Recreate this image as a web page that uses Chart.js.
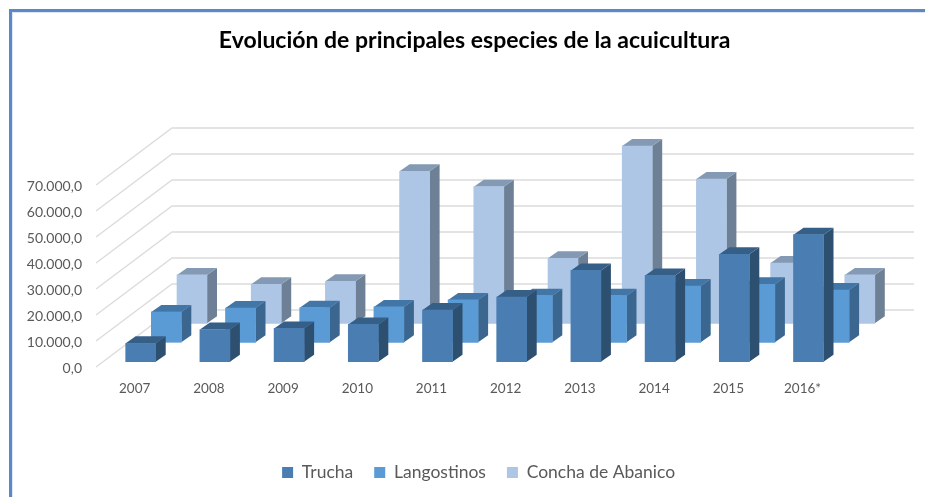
<!DOCTYPE html>
<html>
<head>
<meta charset="utf-8">
<title>Evolución de principales especies de la acuicultura</title>
<script src="https://cdn.jsdelivr.net/npm/chart.js@4"></script>
<style>
    html, body { margin: 0; padding: 0; background: #fff; overflow: hidden; }
    #frame {
        position: absolute; left: 9px; top: 9px; right: 0; bottom: 0;
        border-top: 3px solid #5a8ac6; border-left: 3px solid #5a8ac6;
        box-shadow: inset 1px 1px 0 #dde6f1;
    }
    #chart { position: absolute; left: 0; top: 0; }
</style>
</head>
<body>
<div id="frame"></div>
<canvas id="chart" width="925" height="497"></canvas>
<script>
const categories = ['2007', '2008', '2009', '2010', '2011', '2012', '2013', '2014', '2015', '2016*'];
const trucha = [7050, 12400, 12800, 14350, 19900, 24900, 35100, 33200, 41300, 48850];
const langostinos = [11670, 13200, 13300, 13600, 16300, 17950, 17950, 21670, 22300, 20100];
const concha = [18600, 15000, 16150, 58460, 52560, 25000, 68200, 55500, 23200, 18600];
const yTickLabels = ['0,0', '10.000,0', '20.000,0', '30.000,0', '40.000,0', '50.000,0', '60.000,0', '70.000,0'];

// faces of each series: front, side, top
const faces = [
    { front: '#4a7eb2', side: '#2d4f70', top: '#365f88' },
    { front: '#5b9bd5', side: '#3a668f', top: '#4176a6' },
    { front: '#adc6e5', side: '#6e8095', top: '#8499b3' }
];
// how far each row sits back from the front row
const rowShift = [{ x: 0, y: 0 }, { x: 25.6, y: -19.4 }, { x: 51.3, y: -38.4 }];
const barDepth = { x: 10, y: -7 };
const wallDepth = { x: 76, y: -57 };

const fake3d = {
    id: 'fake3d',
    afterLayout(chart) {
        // legend sits a little right of the plot centre
        chart.legend.left += 4;
        chart.legend.right += 4;
    },
    beforeDatasetsDraw(chart) {
        // the walls, behind everything
        const ctx = chart.ctx;
        const yScale = chart.scales.y;
        const left = 96;
        ctx.save();
        ctx.strokeStyle = '#dcdcdc';
        ctx.lineWidth = 1.4;
        yScale.ticks.forEach(tick => {
            const y = yScale.getPixelForValue(tick.value) + 5.3;
            ctx.beginPath();
            ctx.moveTo(left, y);
            ctx.lineTo(left + wallDepth.x, y + wallDepth.y);
            ctx.lineTo(914, y + wallDepth.y);
            ctx.stroke();
        });
        ctx.restore();
    },
    beforeDatasetDraw(chart, args) {
        const ctx = chart.ctx;
        const shift = rowShift[args.index];
        const face = faces[args.index];
        ctx.save();
        ctx.translate(shift.x, shift.y);
        args.meta.data.forEach(bar => {
            const l = bar.x - bar.width / 2;
            const r = bar.x + bar.width / 2;
            ctx.fillStyle = face.side;
            ctx.beginPath();
            ctx.moveTo(r, bar.y);
            ctx.lineTo(r + barDepth.x, bar.y + barDepth.y);
            ctx.lineTo(r + barDepth.x, bar.base + barDepth.y);
            ctx.lineTo(r, bar.base);
            ctx.closePath();
            ctx.fill();
            ctx.fillStyle = face.top;
            ctx.beginPath();
            ctx.moveTo(l, bar.y);
            ctx.lineTo(l + barDepth.x, bar.y + barDepth.y);
            ctx.lineTo(r + barDepth.x, bar.y + barDepth.y);
            ctx.lineTo(r, bar.y);
            ctx.closePath();
            ctx.fill();
        });
    },
    afterDatasetDraw(chart) {
        chart.ctx.restore();
    }
};

const fontFamily = 'Lato, sans-serif';

new Chart(document.getElementById('chart').getContext('2d'), {
    type: 'bar',
    data: {
        labels: categories,
        datasets: [
            { label: 'Trucha', data: trucha, backgroundColor: faces[0].front },
            { label: 'Langostinos', data: langostinos, backgroundColor: faces[1].front },
            { label: 'Concha de Abanico', data: concha, backgroundColor: faces[2].front }
        ]
    },
    options: {
        responsive: false,
        animation: false,
        layout: { padding: { left: 0, right: 79.4, top: 0, bottom: 5.75 } },
        datasets: { bar: { grouped: false, barThickness: 30, clip: false } },
        scales: {
            x: {
                grid: { display: false, drawTicks: false },
                border: { display: false },
                afterFit(scale) { scale.height = 81.05; },
                ticks: {
                    color: '#595959',
                    font: { family: fontFamily, size: 13.5 },
                    padding: 19,
                    labelOffset: -6,
                    maxRotation: 0
                }
            },
            y: {
                min: 0,
                max: 70000,
                grid: { display: false, drawTicks: false },
                border: { display: false },
                afterFit(scale) { scale.width = 103.6; },
                ticks: {
                    stepSize: 10000,
                    color: '#595959',
                    font: { family: fontFamily, size: 14 },
                    padding: 21.6,
                    labelOffset: 6.8,
                    callback: (value, i) => yTickLabels[i]
                }
            }
        },
        plugins: {
            tooltip: { enabled: false },
            title: {
                display: true,
                text: 'Evolución de principales especies de la acuicultura',
                color: '#000',
                fullSize: false,
                font: { family: fontFamily, size: 23, weight: 'bold' },
                padding: { top: 27.2, bottom: 124.9 }
            },
            legend: {
                position: 'bottom',
                fullSize: false,
                labels: {
                    color: '#595959',
                    font: { family: fontFamily, size: 17.5 },
                    boxWidth: 11,
                    boxHeight: 11,
                    padding: 21
                }
            }
        }
    },
    plugins: [fake3d]
});
</script>
</body>
</html>
